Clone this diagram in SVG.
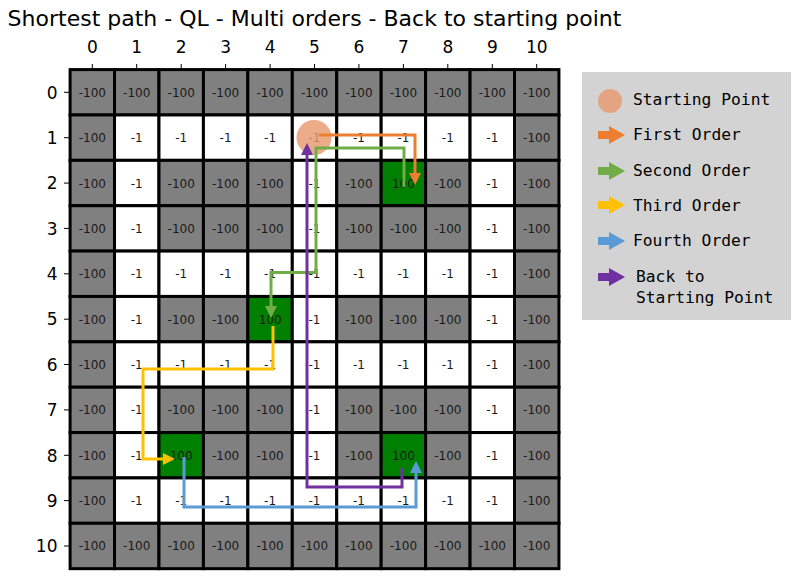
<svg xmlns="http://www.w3.org/2000/svg" width="807" height="585" viewBox="0 0 807 585">
<style>
  .t { font-family: "DejaVu Sans", sans-serif; fill: #000; }
  .title { font-size: 22px; text-anchor: middle; }
  .tick { font-size: 17px; }
  .tx { text-anchor: middle; }
  .ty { text-anchor: end; }
  .tk { stroke: #000; stroke-width: 1; }
  .g { fill: #808080; stroke: #000; stroke-width: 3; }
  .w { fill: #ffffff; stroke: #000; stroke-width: 3; }
  .gr { fill: #008000; stroke: #000; stroke-width: 3; }
  .v { font-family: "DejaVu Sans", sans-serif; font-size: 12px; text-anchor: middle; fill: #1a1a1a; }
  .p { fill: none; stroke-width: 3; stroke-linejoin: miter; }
  .lg { font-family: "DejaVu Sans Mono", monospace; font-size: 16.3px; fill: #000; }
  .start { fill: #E89A70; fill-opacity: 0.82; }
</style>
<defs>
  <marker id="mo" viewBox="0 0 12 12" refX="0" refY="6" markerWidth="12" markerHeight="12" markerUnits="userSpaceOnUse" orient="auto"><path d="M0,0 L12,6 L0,12 Z" fill="#ED7D31"/></marker>
  <marker id="mg" viewBox="0 0 12 12" refX="0" refY="6" markerWidth="12" markerHeight="12" markerUnits="userSpaceOnUse" orient="auto"><path d="M0,0 L12,6 L0,12 Z" fill="#70AD47"/></marker>
  <marker id="my" viewBox="0 0 12 12" refX="0" refY="6" markerWidth="12" markerHeight="12" markerUnits="userSpaceOnUse" orient="auto"><path d="M0,0 L12,6 L0,12 Z" fill="#FFC000"/></marker>
  <marker id="mb" viewBox="0 0 12 12" refX="0" refY="6" markerWidth="12" markerHeight="12" markerUnits="userSpaceOnUse" orient="auto"><path d="M0,0 L12,6 L0,12 Z" fill="#5B9BD5"/></marker>
  <marker id="mp" viewBox="0 0 12 12" refX="0" refY="6" markerWidth="12" markerHeight="12" markerUnits="userSpaceOnUse" orient="auto"><path d="M0,0 L12,6 L0,12 Z" fill="#7030A0"/></marker>
  <path id="larrow" d="M0,-4 H11 V-9 L27,0 L11,9 V4 H0 Z"/>
</defs>
<rect width="807" height="585" fill="#fff"/>
<text class="t title" x="314.5" y="26">Shortest path - QL - Multi orders - Back to starting point</text>

<g id="axes">
  <g id="xticks">
    <path class="tk" d="M92.3,64V70 M136.7,64V70 M181.2,64V70 M225.6,64V70 M270.1,64V70 M314.5,64V70 M358.9,64V70 M403.4,64V70 M447.8,64V70 M492.3,64V70 M536.7,64V70"/>
    <text class="t tick tx" x="92.3" y="52.5">0</text>
    <text class="t tick tx" x="136.7" y="52.5">1</text>
    <text class="t tick tx" x="181.2" y="52.5">2</text>
    <text class="t tick tx" x="225.6" y="52.5">3</text>
    <text class="t tick tx" x="270.1" y="52.5">4</text>
    <text class="t tick tx" x="314.5" y="52.5">5</text>
    <text class="t tick tx" x="358.9" y="52.5">6</text>
    <text class="t tick tx" x="403.4" y="52.5">7</text>
    <text class="t tick tx" x="447.8" y="52.5">8</text>
    <text class="t tick tx" x="492.3" y="52.5">9</text>
    <text class="t tick tx" x="536.7" y="52.5">10</text>
  </g>
  <g id="yticks">
    <path class="tk" d="M64,92.3H70 M64,137.7H70 M64,183.1H70 M64,228.4H70 M64,273.8H70 M64,319.2H70 M64,364.5H70 M64,409.9H70 M64,455.3H70 M64,500.6H70 M64,546H70"/>
    <text class="t tick ty" x="57.5" y="98.5">0</text>
    <text class="t tick ty" x="57.5" y="143.9">1</text>
    <text class="t tick ty" x="57.5" y="189.3">2</text>
    <text class="t tick ty" x="57.5" y="234.6">3</text>
    <text class="t tick ty" x="57.5" y="280">4</text>
    <text class="t tick ty" x="57.5" y="325.4">5</text>
    <text class="t tick ty" x="57.5" y="370.7">6</text>
    <text class="t tick ty" x="57.5" y="416.1">7</text>
    <text class="t tick ty" x="57.5" y="461.5">8</text>
    <text class="t tick ty" x="57.5" y="506.8">9</text>
    <text class="t tick ty" x="57.5" y="552.2">10</text>
  </g>
</g>

<g id="grid">
  <!-- row 0 -->
  <rect class="g" x="70.1" y="69.6" width="44.44" height="45.37"/><rect class="g" x="114.54" y="69.6" width="44.44" height="45.37"/><rect class="g" x="158.98" y="69.6" width="44.44" height="45.37"/><rect class="g" x="203.42" y="69.6" width="44.44" height="45.37"/><rect class="g" x="247.86" y="69.6" width="44.44" height="45.37"/><rect class="g" x="292.3" y="69.6" width="44.44" height="45.37"/><rect class="g" x="336.74" y="69.6" width="44.44" height="45.37"/><rect class="g" x="381.18" y="69.6" width="44.44" height="45.37"/><rect class="g" x="425.62" y="69.6" width="44.44" height="45.37"/><rect class="g" x="470.06" y="69.6" width="44.44" height="45.37"/><rect class="g" x="514.5" y="69.6" width="44.44" height="45.37"/>
  <!-- row 1 -->
  <rect class="g" x="70.1" y="114.97" width="44.44" height="45.37"/><rect class="w" x="114.54" y="114.97" width="44.44" height="45.37"/><rect class="w" x="158.98" y="114.97" width="44.44" height="45.37"/><rect class="w" x="203.42" y="114.97" width="44.44" height="45.37"/><rect class="w" x="247.86" y="114.97" width="44.44" height="45.37"/><rect class="w" x="292.3" y="114.97" width="44.44" height="45.37"/><rect class="w" x="336.74" y="114.97" width="44.44" height="45.37"/><rect class="w" x="381.18" y="114.97" width="44.44" height="45.37"/><rect class="w" x="425.62" y="114.97" width="44.44" height="45.37"/><rect class="w" x="470.06" y="114.97" width="44.44" height="45.37"/><rect class="g" x="514.5" y="114.97" width="44.44" height="45.37"/>
  <!-- row 2 -->
  <rect class="g" x="70.1" y="160.34" width="44.44" height="45.37"/><rect class="w" x="114.54" y="160.34" width="44.44" height="45.37"/><rect class="g" x="158.98" y="160.34" width="44.44" height="45.37"/><rect class="g" x="203.42" y="160.34" width="44.44" height="45.37"/><rect class="g" x="247.86" y="160.34" width="44.44" height="45.37"/><rect class="w" x="292.3" y="160.34" width="44.44" height="45.37"/><rect class="g" x="336.74" y="160.34" width="44.44" height="45.37"/><rect class="gr" x="381.18" y="160.34" width="44.44" height="45.37"/><rect class="g" x="425.62" y="160.34" width="44.44" height="45.37"/><rect class="w" x="470.06" y="160.34" width="44.44" height="45.37"/><rect class="g" x="514.5" y="160.34" width="44.44" height="45.37"/>
  <!-- row 3 -->
  <rect class="g" x="70.1" y="205.71" width="44.44" height="45.37"/><rect class="w" x="114.54" y="205.71" width="44.44" height="45.37"/><rect class="g" x="158.98" y="205.71" width="44.44" height="45.37"/><rect class="g" x="203.42" y="205.71" width="44.44" height="45.37"/><rect class="g" x="247.86" y="205.71" width="44.44" height="45.37"/><rect class="w" x="292.3" y="205.71" width="44.44" height="45.37"/><rect class="g" x="336.74" y="205.71" width="44.44" height="45.37"/><rect class="g" x="381.18" y="205.71" width="44.44" height="45.37"/><rect class="g" x="425.62" y="205.71" width="44.44" height="45.37"/><rect class="w" x="470.06" y="205.71" width="44.44" height="45.37"/><rect class="g" x="514.5" y="205.71" width="44.44" height="45.37"/>
  <!-- row 4 -->
  <rect class="g" x="70.1" y="251.08" width="44.44" height="45.37"/><rect class="w" x="114.54" y="251.08" width="44.44" height="45.37"/><rect class="w" x="158.98" y="251.08" width="44.44" height="45.37"/><rect class="w" x="203.42" y="251.08" width="44.44" height="45.37"/><rect class="w" x="247.86" y="251.08" width="44.44" height="45.37"/><rect class="w" x="292.3" y="251.08" width="44.44" height="45.37"/><rect class="w" x="336.74" y="251.08" width="44.44" height="45.37"/><rect class="w" x="381.18" y="251.08" width="44.44" height="45.37"/><rect class="w" x="425.62" y="251.08" width="44.44" height="45.37"/><rect class="w" x="470.06" y="251.08" width="44.44" height="45.37"/><rect class="g" x="514.5" y="251.08" width="44.44" height="45.37"/>
  <!-- row 5 -->
  <rect class="g" x="70.1" y="296.45" width="44.44" height="45.37"/><rect class="w" x="114.54" y="296.45" width="44.44" height="45.37"/><rect class="g" x="158.98" y="296.45" width="44.44" height="45.37"/><rect class="g" x="203.42" y="296.45" width="44.44" height="45.37"/><rect class="gr" x="247.86" y="296.45" width="44.44" height="45.37"/><rect class="w" x="292.3" y="296.45" width="44.44" height="45.37"/><rect class="g" x="336.74" y="296.45" width="44.44" height="45.37"/><rect class="g" x="381.18" y="296.45" width="44.44" height="45.37"/><rect class="g" x="425.62" y="296.45" width="44.44" height="45.37"/><rect class="w" x="470.06" y="296.45" width="44.44" height="45.37"/><rect class="g" x="514.5" y="296.45" width="44.44" height="45.37"/>
  <!-- row 6 -->
  <rect class="g" x="70.1" y="341.82" width="44.44" height="45.37"/><rect class="w" x="114.54" y="341.82" width="44.44" height="45.37"/><rect class="w" x="158.98" y="341.82" width="44.44" height="45.37"/><rect class="w" x="203.42" y="341.82" width="44.44" height="45.37"/><rect class="w" x="247.86" y="341.82" width="44.44" height="45.37"/><rect class="w" x="292.3" y="341.82" width="44.44" height="45.37"/><rect class="w" x="336.74" y="341.82" width="44.44" height="45.37"/><rect class="w" x="381.18" y="341.82" width="44.44" height="45.37"/><rect class="w" x="425.62" y="341.82" width="44.44" height="45.37"/><rect class="w" x="470.06" y="341.82" width="44.44" height="45.37"/><rect class="g" x="514.5" y="341.82" width="44.44" height="45.37"/>
  <!-- row 7 -->
  <rect class="g" x="70.1" y="387.19" width="44.44" height="45.37"/><rect class="w" x="114.54" y="387.19" width="44.44" height="45.37"/><rect class="g" x="158.98" y="387.19" width="44.44" height="45.37"/><rect class="g" x="203.42" y="387.19" width="44.44" height="45.37"/><rect class="g" x="247.86" y="387.19" width="44.44" height="45.37"/><rect class="w" x="292.3" y="387.19" width="44.44" height="45.37"/><rect class="g" x="336.74" y="387.19" width="44.44" height="45.37"/><rect class="g" x="381.18" y="387.19" width="44.44" height="45.37"/><rect class="g" x="425.62" y="387.19" width="44.44" height="45.37"/><rect class="w" x="470.06" y="387.19" width="44.44" height="45.37"/><rect class="g" x="514.5" y="387.19" width="44.44" height="45.37"/>
  <!-- row 8 -->
  <rect class="g" x="70.1" y="432.56" width="44.44" height="45.37"/><rect class="w" x="114.54" y="432.56" width="44.44" height="45.37"/><rect class="gr" x="158.98" y="432.56" width="44.44" height="45.37"/><rect class="g" x="203.42" y="432.56" width="44.44" height="45.37"/><rect class="g" x="247.86" y="432.56" width="44.44" height="45.37"/><rect class="w" x="292.3" y="432.56" width="44.44" height="45.37"/><rect class="g" x="336.74" y="432.56" width="44.44" height="45.37"/><rect class="gr" x="381.18" y="432.56" width="44.44" height="45.37"/><rect class="g" x="425.62" y="432.56" width="44.44" height="45.37"/><rect class="w" x="470.06" y="432.56" width="44.44" height="45.37"/><rect class="g" x="514.5" y="432.56" width="44.44" height="45.37"/>
  <!-- row 9 -->
  <rect class="g" x="70.1" y="477.93" width="44.44" height="45.37"/><rect class="w" x="114.54" y="477.93" width="44.44" height="45.37"/><rect class="w" x="158.98" y="477.93" width="44.44" height="45.37"/><rect class="w" x="203.42" y="477.93" width="44.44" height="45.37"/><rect class="w" x="247.86" y="477.93" width="44.44" height="45.37"/><rect class="w" x="292.3" y="477.93" width="44.44" height="45.37"/><rect class="w" x="336.74" y="477.93" width="44.44" height="45.37"/><rect class="w" x="381.18" y="477.93" width="44.44" height="45.37"/><rect class="w" x="425.62" y="477.93" width="44.44" height="45.37"/><rect class="w" x="470.06" y="477.93" width="44.44" height="45.37"/><rect class="g" x="514.5" y="477.93" width="44.44" height="45.37"/>
  <!-- row 10 -->
  <rect class="g" x="70.1" y="523.3" width="44.44" height="45.37"/><rect class="g" x="114.54" y="523.3" width="44.44" height="45.37"/><rect class="g" x="158.98" y="523.3" width="44.44" height="45.37"/><rect class="g" x="203.42" y="523.3" width="44.44" height="45.37"/><rect class="g" x="247.86" y="523.3" width="44.44" height="45.37"/><rect class="g" x="292.3" y="523.3" width="44.44" height="45.37"/><rect class="g" x="336.74" y="523.3" width="44.44" height="45.37"/><rect class="g" x="381.18" y="523.3" width="44.44" height="45.37"/><rect class="g" x="425.62" y="523.3" width="44.44" height="45.37"/><rect class="g" x="470.06" y="523.3" width="44.44" height="45.37"/><rect class="g" x="514.5" y="523.3" width="44.44" height="45.37"/>
</g>

<g id="values">
  <g transform="translate(0,96.7)"><text class="v" x="92.3">-100</text><text class="v" x="136.7">-100</text><text class="v" x="181.2">-100</text><text class="v" x="225.6">-100</text><text class="v" x="270.1">-100</text><text class="v" x="314.5">-100</text><text class="v" x="358.9">-100</text><text class="v" x="403.4">-100</text><text class="v" x="447.8">-100</text><text class="v" x="492.3">-100</text><text class="v" x="536.7">-100</text></g>
  <g transform="translate(0,142.1)"><text class="v" x="92.3">-100</text><text class="v" x="136.7">-1</text><text class="v" x="181.2">-1</text><text class="v" x="225.6">-1</text><text class="v" x="270.1">-1</text><text class="v" x="314.5">-1</text><text class="v" x="358.9">-1</text><text class="v" x="403.4">-1</text><text class="v" x="447.8">-1</text><text class="v" x="492.3">-1</text><text class="v" x="536.7">-100</text></g>
  <g transform="translate(0,187.5)"><text class="v" x="92.3">-100</text><text class="v" x="136.7">-1</text><text class="v" x="181.2">-100</text><text class="v" x="225.6">-100</text><text class="v" x="270.1">-100</text><text class="v" x="314.5">-1</text><text class="v" x="358.9">-100</text><text class="v" x="403.4">100</text><text class="v" x="447.8">-100</text><text class="v" x="492.3">-1</text><text class="v" x="536.7">-100</text></g>
  <g transform="translate(0,232.8)"><text class="v" x="92.3">-100</text><text class="v" x="136.7">-1</text><text class="v" x="181.2">-100</text><text class="v" x="225.6">-100</text><text class="v" x="270.1">-100</text><text class="v" x="314.5">-1</text><text class="v" x="358.9">-100</text><text class="v" x="403.4">-100</text><text class="v" x="447.8">-100</text><text class="v" x="492.3">-1</text><text class="v" x="536.7">-100</text></g>
  <g transform="translate(0,278.2)"><text class="v" x="92.3">-100</text><text class="v" x="136.7">-1</text><text class="v" x="181.2">-1</text><text class="v" x="225.6">-1</text><text class="v" x="270.1">-1</text><text class="v" x="314.5">-1</text><text class="v" x="358.9">-1</text><text class="v" x="403.4">-1</text><text class="v" x="447.8">-1</text><text class="v" x="492.3">-1</text><text class="v" x="536.7">-100</text></g>
  <g transform="translate(0,323.6)"><text class="v" x="92.3">-100</text><text class="v" x="136.7">-1</text><text class="v" x="181.2">-100</text><text class="v" x="225.6">-100</text><text class="v" x="270.1">100</text><text class="v" x="314.5">-1</text><text class="v" x="358.9">-100</text><text class="v" x="403.4">-100</text><text class="v" x="447.8">-100</text><text class="v" x="492.3">-1</text><text class="v" x="536.7">-100</text></g>
  <g transform="translate(0,368.9)"><text class="v" x="92.3">-100</text><text class="v" x="136.7">-1</text><text class="v" x="181.2">-1</text><text class="v" x="225.6">-1</text><text class="v" x="270.1">-1</text><text class="v" x="314.5">-1</text><text class="v" x="358.9">-1</text><text class="v" x="403.4">-1</text><text class="v" x="447.8">-1</text><text class="v" x="492.3">-1</text><text class="v" x="536.7">-100</text></g>
  <g transform="translate(0,414.3)"><text class="v" x="92.3">-100</text><text class="v" x="136.7">-1</text><text class="v" x="181.2">-100</text><text class="v" x="225.6">-100</text><text class="v" x="270.1">-100</text><text class="v" x="314.5">-1</text><text class="v" x="358.9">-100</text><text class="v" x="403.4">-100</text><text class="v" x="447.8">-100</text><text class="v" x="492.3">-1</text><text class="v" x="536.7">-100</text></g>
  <g transform="translate(0,459.7)"><text class="v" x="92.3">-100</text><text class="v" x="136.7">-1</text><text class="v" x="181.2">100</text><text class="v" x="225.6">-100</text><text class="v" x="270.1">-100</text><text class="v" x="314.5">-1</text><text class="v" x="358.9">-100</text><text class="v" x="403.4">100</text><text class="v" x="447.8">-100</text><text class="v" x="492.3">-1</text><text class="v" x="536.7">-100</text></g>
  <g transform="translate(0,505)"><text class="v" x="92.3">-100</text><text class="v" x="136.7">-1</text><text class="v" x="181.2">-1</text><text class="v" x="225.6">-1</text><text class="v" x="270.1">-1</text><text class="v" x="314.5">-1</text><text class="v" x="358.9">-1</text><text class="v" x="403.4">-1</text><text class="v" x="447.8">-1</text><text class="v" x="492.3">-1</text><text class="v" x="536.7">-100</text></g>
  <g transform="translate(0,550.4)"><text class="v" x="92.3">-100</text><text class="v" x="136.7">-100</text><text class="v" x="181.2">-100</text><text class="v" x="225.6">-100</text><text class="v" x="270.1">-100</text><text class="v" x="314.5">-100</text><text class="v" x="358.9">-100</text><text class="v" x="403.4">-100</text><text class="v" x="447.8">-100</text><text class="v" x="492.3">-100</text><text class="v" x="536.7">-100</text></g>
</g>

<g id="start-point">
  <circle class="start" cx="314" cy="137.5" r="17.5"/>
</g>

<g id="connectors">
  <path id="first-order" class="p" stroke="#ED7D31" d="M319,135 H415 V173" marker-end="url(#mo)"/>
  <path id="second-order" class="p" stroke="#70AD47" d="M404,187 V148 H316 V272.5 H271 V306" marker-end="url(#mg)"/>
  <path id="third-order" class="p" stroke="#FFC000" d="M273,326 V369 H143 V459 H163" marker-end="url(#my)"/>
  <path id="fourth-order" class="p" stroke="#5B9BD5" d="M184,457 V507 H416 V473" marker-end="url(#mb)"/>
  <path id="back-to-start" class="p" stroke="#7030A0" d="M402,468 V487 H307 V155" marker-end="url(#mp)"/>
</g>

<g id="legend">
  <rect x="582" y="72" width="209" height="248" fill="#D3D3D3"/>
  <circle class="start" cx="610" cy="101" r="12"/>
  <text class="lg" x="633" y="105">Starting Point</text>
  <use href="#larrow" transform="translate(598,135)" fill="#ED7D31"/>
  <text class="lg" x="633" y="140">First Order</text>
  <use href="#larrow" transform="translate(598,171)" fill="#70AD47"/>
  <text class="lg" x="633" y="176">Second Order</text>
  <use href="#larrow" transform="translate(598,205)" fill="#FFC000"/>
  <text class="lg" x="633" y="211">Third Order</text>
  <use href="#larrow" transform="translate(598,241)" fill="#5B9BD5"/>
  <text class="lg" x="633" y="246">Fourth Order</text>
  <use href="#larrow" transform="translate(598,277)" fill="#7030A0"/>
  <text class="lg" x="636" y="282">Back to</text>
  <text class="lg" x="636" y="303">Starting Point</text>
</g>
</svg>
